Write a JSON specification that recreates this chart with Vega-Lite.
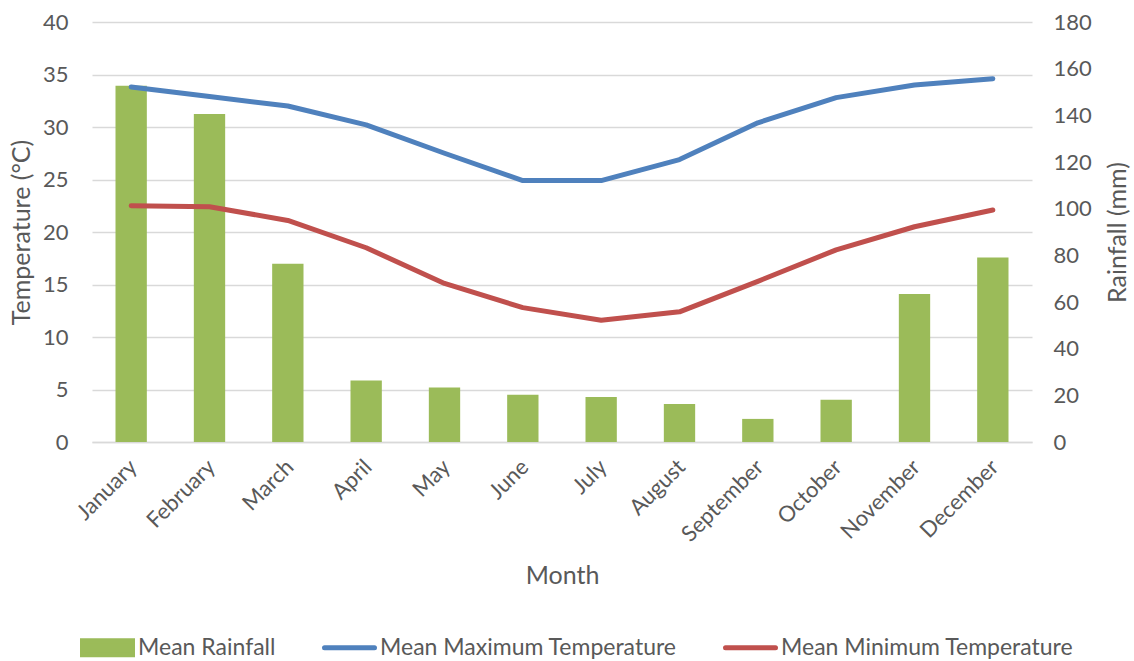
{
  "$schema": "https://vega.github.io/schema/vega-lite/v6.json",
  "autosize": {"type": "none"},
  "width": 940,
  "height": 420,
  "padding": {"left": 92, "top": 22, "right": 102, "bottom": 219},
  "background": "white",
  "config": {
    "view": {"stroke": null},
    "font": "Lato",
    "axis": {
      "labelFont": "Lato",
      "titleFont": "Lato",
      "labelColor": "#595959",
      "titleColor": "#595959",
      "labelFontSize": 22,
      "titleFontSize": 25,
      "titleFontWeight": "normal",
      "ticks": false,
      "domain": false
    },
    "legend": {"labelFont": "Lato", "labelColor": "#595959", "labelFontSize": 23, "labelLimit": 500}
  },
  "datasets": {
    "rain": [
      {"month": "January", "rainfall": 152.7},
      {"month": "February", "rainfall": 140.6},
      {"month": "March", "rainfall": 76.4},
      {"month": "April", "rainfall": 26.4},
      {"month": "May", "rainfall": 23.4},
      {"month": "June", "rainfall": 20.3},
      {"month": "July", "rainfall": 19.3},
      {"month": "August", "rainfall": 16.3},
      {"month": "September", "rainfall": 9.9},
      {"month": "October", "rainfall": 18.1},
      {"month": "November", "rainfall": 63.4},
      {"month": "December", "rainfall": 79.1}
    ],
    "temp": [
      {"month": "January", "series": "Mean Maximum Temperature", "temperature": 33.8},
      {"month": "February", "series": "Mean Maximum Temperature", "temperature": 32.9},
      {"month": "March", "series": "Mean Maximum Temperature", "temperature": 32.0},
      {"month": "April", "series": "Mean Maximum Temperature", "temperature": 30.2},
      {"month": "May", "series": "Mean Maximum Temperature", "temperature": 27.5},
      {"month": "June", "series": "Mean Maximum Temperature", "temperature": 24.9},
      {"month": "July", "series": "Mean Maximum Temperature", "temperature": 24.9},
      {"month": "August", "series": "Mean Maximum Temperature", "temperature": 26.9},
      {"month": "September", "series": "Mean Maximum Temperature", "temperature": 30.4},
      {"month": "October", "series": "Mean Maximum Temperature", "temperature": 32.8},
      {"month": "November", "series": "Mean Maximum Temperature", "temperature": 34.0},
      {"month": "December", "series": "Mean Maximum Temperature", "temperature": 34.6},
      {"month": "January", "series": "Mean Minimum Temperature", "temperature": 22.5},
      {"month": "February", "series": "Mean Minimum Temperature", "temperature": 22.4},
      {"month": "March", "series": "Mean Minimum Temperature", "temperature": 21.1},
      {"month": "April", "series": "Mean Minimum Temperature", "temperature": 18.5},
      {"month": "May", "series": "Mean Minimum Temperature", "temperature": 15.1},
      {"month": "June", "series": "Mean Minimum Temperature", "temperature": 12.8},
      {"month": "July", "series": "Mean Minimum Temperature", "temperature": 11.6},
      {"month": "August", "series": "Mean Minimum Temperature", "temperature": 12.4},
      {"month": "September", "series": "Mean Minimum Temperature", "temperature": 15.3},
      {"month": "October", "series": "Mean Minimum Temperature", "temperature": 18.3},
      {"month": "November", "series": "Mean Minimum Temperature", "temperature": 20.5},
      {"month": "December", "series": "Mean Minimum Temperature", "temperature": 22.1}
    ]
  },
  "encoding": {
    "x": {
      "field": "month",
      "type": "nominal",
      "sort": null,
      "scale": {"paddingInner": 0.6, "paddingOuter": 0.3},
      "axis": {
        "title": "Month",
        "labelAngle": -45,
        "labelAlign": "right",
        "labelBaseline": "top",
        "labelPadding": 14,
        "labelOffset": -5,
        "titlePadding": 18,
        "grid": false,
        "domain": true,
        "domainColor": "#D9D9D9",
        "domainWidth": 1.5
      }
    }
  },
  "layer": [
    {
      "data": {"name": "rain"},
      "mark": {"type": "bar", "color": "#9BBB59"},
      "encoding": {
        "y": {
          "field": "rainfall",
          "type": "quantitative",
          "scale": {"domain": [0, 180], "nice": false},
          "axis": {
            "orient": "right",
            "title": "Rainfall (mm)",
            "titleAngle": -90,
            "titleBaseline": "top",
            "values": [0, 20, 40, 60, 80, 100, 120, 140, 160, 180],
            "grid": false,
            "labelPadding": 21,
            "labelAlign": "left",
            "titlePadding": 14
          }
        },
        "color": {
          "datum": "Mean Rainfall",
          "scale": {
            "domain": ["Mean Rainfall", "Mean Maximum Temperature", "Mean Minimum Temperature"],
            "range": ["#9BBB59", "#4F81BD", "#C0504D"]
          },
          "legend": {
            "orient": "none",
            "direction": "horizontal",
            "legendX": -12,
            "legendY": 598,
            "title": null,
            "padding": 0,
            "columnPadding": 38,
            "labelOffset": 3,
            "labelLimit": 500,
            "symbolSize": 2500,
            "symbolStrokeWidth": 5,
            "encode": {
              "symbols": {
                "update": {
                  "shape": {"signal": "datum.value === 'Mean Rainfall' ? 'M-1,-0.28H1V0.28H-1Z' : 'M-1,-0.28M-1,0.28M-1,0H1'"},
                  "fill": {"signal": "datum.value === 'Mean Rainfall' ? '#9BBB59' : 'transparent'"},
                  "stroke": {"signal": "datum.value === 'Mean Rainfall' ? 'transparent' : (datum.value === 'Mean Maximum Temperature' ? '#4F81BD' : '#C0504D')"},
                  "strokeWidth": {"value": 5},
                  "strokeCap": {"value": "round"},
                  "opacity": {"value": 1}
                }
              }
            }
          }
        }
      }
    },
    {
      "data": {"name": "temp"},
      "mark": {"type": "line", "strokeWidth": 5, "strokeCap": "round", "strokeJoin": "round"},
      "encoding": {
        "y": {
          "field": "temperature",
          "type": "quantitative",
          "scale": {"domain": [0, 40], "nice": false},
          "axis": {
            "orient": "left",
            "title": "Temperature (°C)",
            "values": [0, 5, 10, 15, 20, 25, 30, 35, 40],
            "grid": true,
            "gridColor": "#D9D9D9",
            "gridWidth": 1.5,
            "labelPadding": 24,
            "titlePadding": 8
          }
        },
        "color": {
          "field": "series",
          "type": "nominal",
          "legend": {
            "orient": "none",
            "direction": "horizontal",
            "legendX": -12,
            "legendY": 598,
            "title": null,
            "padding": 0,
            "columnPadding": 38,
            "labelOffset": 3,
            "labelLimit": 500,
            "symbolSize": 2500,
            "symbolStrokeWidth": 5,
            "encode": {
              "symbols": {
                "update": {
                  "shape": {"signal": "datum.value === 'Mean Rainfall' ? 'M-1,-0.28H1V0.28H-1Z' : 'M-1,-0.28M-1,0.28M-1,0H1'"},
                  "fill": {"signal": "datum.value === 'Mean Rainfall' ? '#9BBB59' : 'transparent'"},
                  "stroke": {"signal": "datum.value === 'Mean Rainfall' ? 'transparent' : (datum.value === 'Mean Maximum Temperature' ? '#4F81BD' : '#C0504D')"},
                  "strokeWidth": {"value": 5},
                  "strokeCap": {"value": "round"},
                  "opacity": {"value": 1}
                }
              }
            }
          }
        }
      }
    }
  ],
  "resolve": {"scale": {"y": "independent"}}
}
